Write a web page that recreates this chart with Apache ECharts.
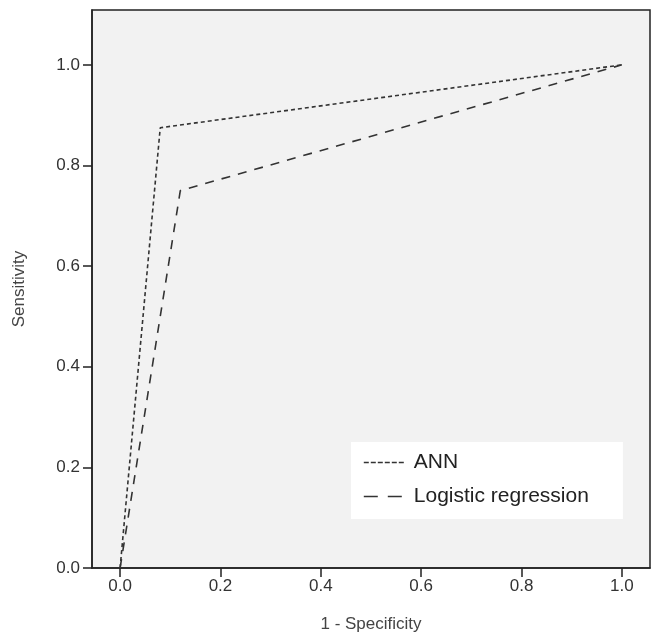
<!DOCTYPE html>
<html><head><meta charset="utf-8">
<script src="https://cdn.jsdelivr.net/npm/echarts@6/dist/echarts.min.js"></script>
<style>html,body{margin:0;padding:0;background:#fff}#c{width:652px;height:638px}</style>
</head><body><div id="c"></div>
<script>
const seriesNames = ["ANN", "Logistic regression"];
const annPoints = [[0, 0], [0.08, 0.875], [1, 1]];
const logisticPoints = [[0, 0], [0.12, 0.75], [1, 1]];
const tickValues = [0, 0.2, 0.4, 0.6, 0.8, 1.0];
const xTitle = "1 - Specificity";
const yTitle = "Sensitivity";

const chart = echarts.init(document.getElementById('c'));
const font = 'Liberation Sans, Arial, sans-serif';
const dashes = [[4, 3], [9, 8]];
const legendDashes = [[5, 2], [14, 10]];
chart.setOption({
  animation: false,
  backgroundColor: '#fff',
  grid: {left: 92, right: 2, top: 10, bottom: 70, show: true, backgroundColor: '#f2f2f2', borderColor: '#222', borderWidth: 1.5},
  xAxis: {
    type: 'value', min: -0.056, max: 1.056,
    name: xTitle, nameLocation: 'middle', nameGap: 48,
    nameTextStyle: {fontFamily: font, fontSize: 17, color: '#444'},
    axisLine: {show: true, onZero: false, lineStyle: {color: '#222', width: 1.5}},
    axisTick: {show: true, length: 9, customValues: tickValues, lineStyle: {color: '#222', width: 1.5}},
    axisLabel: {customValues: tickValues, formatter: v => v.toFixed(1), fontFamily: font, fontSize: 17, color: '#333', margin: 10},
    splitLine: {show: false}
  },
  yAxis: {
    type: 'value', min: 0, max: 1.109,
    name: yTitle, nameLocation: 'middle', nameGap: 64, nameRotate: 90,
    nameTextStyle: {fontFamily: font, fontSize: 17, color: '#444'},
    axisLine: {show: true, onZero: false, lineStyle: {color: '#222', width: 1.5}},
    axisTick: {show: true, length: 9, customValues: tickValues, lineStyle: {color: '#222', width: 1.5}},
    axisLabel: {customValues: tickValues, formatter: v => v.toFixed(1), fontFamily: font, fontSize: 17, color: '#333', margin: 12},
    splitLine: {show: false}
  },
  legend: {
    orient: 'vertical', left: 351, top: 442,
    backgroundColor: '#fff', padding: [10, 34, 12, 12], itemGap: 13,
    itemWidth: 40, itemHeight: 16,
    itemStyle: {opacity: 0},
    textStyle: {fontFamily: font, fontSize: 21, color: '#222', padding: [0, 0, 0, 5]},
    data: seriesNames.map((n, i) => ({name: n, lineStyle: {type: legendDashes[i], width: 1.6, color: '#333'}}))
  },
  series: [
    {name: seriesNames[0], type: 'line', data: annPoints, symbol: 'none', showSymbol: false, lineStyle: {color: '#333', width: 1.6, type: dashes[0]}, itemStyle: {color: '#333'}},
    {name: seriesNames[1], type: 'line', data: logisticPoints, symbol: 'none', showSymbol: false, lineStyle: {color: '#333', width: 1.6, type: dashes[1]}, itemStyle: {color: '#333'}}
  ]
});
</script></body></html>
